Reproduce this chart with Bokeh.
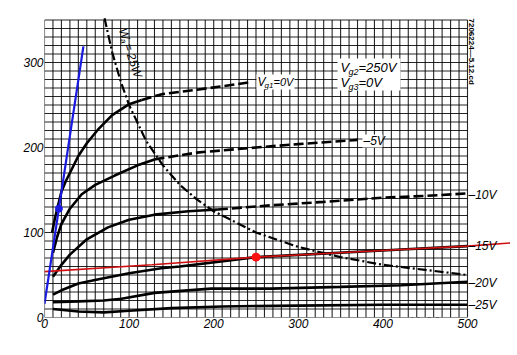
from bokeh.plotting import figure
from bokeh.models import Range1d, FixedTicker, Label, BoxAnnotation
from bokeh.embed import file_html
from bokeh.resources import INLINE
import math

# ---------------- data ----------------
x_ticks = [0, 100, 200, 300, 400, 500]
y_ticks = [0, 100, 200, 300]
grid_va = list(range(0, 501, 10))
grid_ia = list(range(0, 351, 10))

# Vg1 = 0 V
va_0_solid = [9, 12, 15, 20, 25, 30, 40, 50, 64, 80, 100, 115]
ia_0_solid = [100, 115, 128, 148, 160, 170, 190, 205, 222, 238, 251, 256]
va_0_dash = [115, 140, 180, 210, 245]
ia_0_dash = [256, 263, 268, 272, 277]
# Vg1 = -5 V
va_5_solid = [10, 15, 20, 30, 44, 60, 83, 110, 130]
ia_5_solid = [76, 95, 110, 128, 145, 156, 167, 179, 186]
va_5_dash = [130, 180, 250, 300, 370]
ia_5_dash = [186, 194, 200, 204, 209]
# Vg1 = -10 V
va_10_solid = [10, 20, 30, 50, 75, 100, 130, 170, 205]
ia_10_solid = [48, 62, 74, 92, 106, 115, 121, 125, 127]
va_10_dash = [205, 268, 330, 400, 450, 500]
ia_10_dash = [127, 132, 136, 141, 143, 146]
# Vg1 = -15 V
va_15 = [10, 20, 40, 64, 100, 138, 160, 250, 422, 500]
ia_15 = [27, 32, 40, 45, 52, 58, 60, 71, 80, 84]
# Vg1 = -20 V
va_20 = [10, 40, 70, 91, 130, 197, 268, 350, 422, 500]
ia_20 = [18, 19, 20, 22, 29, 34, 34, 36, 38, 42]
# Vg1 = -25 V
va_25 = [10, 40, 70, 100, 150, 210, 300, 400, 500]
ia_25 = [10, 7, 6, 8, 11, 13, 14, 15, 15]
# Wa = 25 W limit
va_w = [71, 80, 90, 100, 120, 140, 160, 180, 200, 250, 300, 350, 400, 450, 500]
ia_w = [352, 312, 278, 250, 208, 179, 156, 139, 125, 100, 83, 71, 62, 56, 50]
# blue line + point
va_blue = [0, 46]
ia_blue = [16, 319]
va_blue_pt = [17]
ia_blue_pt = [128]
# red line + point
va_red = [0, 127, 250, 422, 500, 555]
ia_red = [54, 62, 71, 80, 84, 88]
va_red_pt = [250]
ia_red_pt = [71]

# ---------------- figure ----------------
FW, FH = 466, 311          # frame size in px
BL, BT, BB = 44, 6, 28     # borders
XPX, YPX = 0.846, 0.85     # px per unit
p = figure(width=BL + FW, height=BT + FH + BB, output_backend="svg", toolbar_location=None,
           x_range=Range1d(0, FW / XPX), y_range=Range1d(0, FH / YPX),
           min_border_left=BL, min_border_right=0, min_border_top=BT, min_border_bottom=BB)
p.outline_line_color = None
p.grid.visible = False
p.background_fill_color = "white"
p.border_fill_color = "white"

FONT = "Liberation Sans"
for ax, ticks in ((p.xaxis[0], x_ticks), (p.yaxis[0], y_ticks)):
    ax.ticker = FixedTicker(ticks=ticks)
    ax.axis_line_color = None
    ax.major_tick_line_color = None
    ax.minor_tick_line_color = None
    ax.major_tick_out = 0
    ax.major_tick_in = 0
    ax.major_label_standoff = 1
    ax.major_label_text_font = FONT
    ax.major_label_text_font_style = "italic"
    ax.major_label_text_font_size = "12px"
    ax.major_label_text_color = "black"

# grid
p.segment(x0=grid_va, y0=0, x1=grid_va, y1=grid_ia[-1], line_color="black", line_width=1.1, line_alpha=0.85)
p.segment(x0=0, y0=grid_ia, x1=grid_va[-1], y1=grid_ia, line_color="black", line_width=1.1, line_alpha=0.85)


def i2d(xi, yi):
    """reference-image pixel -> data coordinates (for label placement)"""
    return (xi - 43) / XPX, (319 - yi) / YPX


def white_box(x0, y0, x1, y1):
    l, t = i2d(x0, y0)
    r, b = i2d(x1, y1)
    p.add_layout(BoxAnnotation(left=l, right=r, top=t, bottom=b, fill_color="white", fill_alpha=1,
                               line_color=None, level="glyph"))


white_box(336, 60, 399, 92)
white_box(255, 76, 293, 91)
white_box(361, 136, 381, 149)

CW = 2.6
p.line(va_0_solid, ia_0_solid, line_color="black", line_width=CW)
p.line(va_0_dash, ia_0_dash, line_color="black", line_width=CW, line_dash="10 4")
p.line(va_5_solid, ia_5_solid, line_color="black", line_width=CW)
p.line(va_5_dash, ia_5_dash, line_color="black", line_width=CW, line_dash="10 4")
p.line(va_10_solid, ia_10_solid, line_color="black", line_width=CW)
p.line(va_10_dash, ia_10_dash, line_color="black", line_width=CW, line_dash="10 4")
p.line(va_15, ia_15, line_color="black", line_width=CW)
p.line(va_20, ia_20, line_color="black", line_width=CW)
p.line(va_25, ia_25, line_color="black", line_width=CW)
p.line(va_w, ia_w, line_color="black", line_width=2.2, line_dash="9 3 2 3")

p.line(va_red, ia_red, line_color="#d01010", line_width=1.6)
p.scatter(va_red_pt, ia_red_pt, size=8, fill_color="#ff1010", line_color="#ff1010")
p.line(va_blue, ia_blue, line_color="#1a1ae0", line_width=2.2)
p.scatter(va_blue_pt, ia_blue_pt, size=7, fill_color="#1a1ae0", line_color="#1a1ae0")


def txt(xi, yi, s, size=11, align="left", base="middle", angle=0, style="italic"):
    x, y = i2d(xi, yi)
    p.add_layout(Label(x=x, y=y, text=s, text_font=FONT, text_font_style=style,
                       text_font_size=f"{size}px", text_align=align, text_baseline=base,
                       angle=angle, angle_units="deg", text_color="black"))


# axis titles
txt(31, 33, "I", 13)
txt(36, 37, "a", 9)
txt(43, 48, "(mA)", 12, align="right")
txt(409, 323, "V", 12)
txt(416, 326, "a", 8)
txt(423, 323, "(V)", 12)

# curve labels
txt(256, 83, "V", 12)
txt(263, 87, "g1", 8)
txt(272, 83, "=0V", 11)
txt(339, 69, "V", 13)
txt(347, 73, "g2", 9)
txt(357, 69, "=250V", 13)
txt(339, 84, "V", 13)
txt(347, 88, "g3", 9)
txt(357, 84, "=0V", 13)
txt(362, 142, "–5V", 12)
txt(467, 196, "–10V", 12)
txt(467, 247, "–15V", 12)
txt(467, 284, "–20V", 12)
txt(467, 306, "–25V", 12)

# Wa = 25W rotated label
ang = 72.0
dx, dy = math.cos(math.radians(ang)), math.sin(math.radians(ang))
nx, ny = -dy, dx
sx, sy = 121, 30
txt(sx, sy, "W", 12, angle=-ang)
txt(sx + 10 * dx + 3 * nx, sy + 10 * dy + 3 * ny, "a", 8, angle=-ang)
txt(sx + 16 * dx, sy + 16 * dy, "= 25W", 12, angle=-ang)

# drawing number
txt(470, 20, "7206224—5.12.cd", 8, angle=-90, style="bold")

open("out.html", "w").write(file_html(p, INLINE))
